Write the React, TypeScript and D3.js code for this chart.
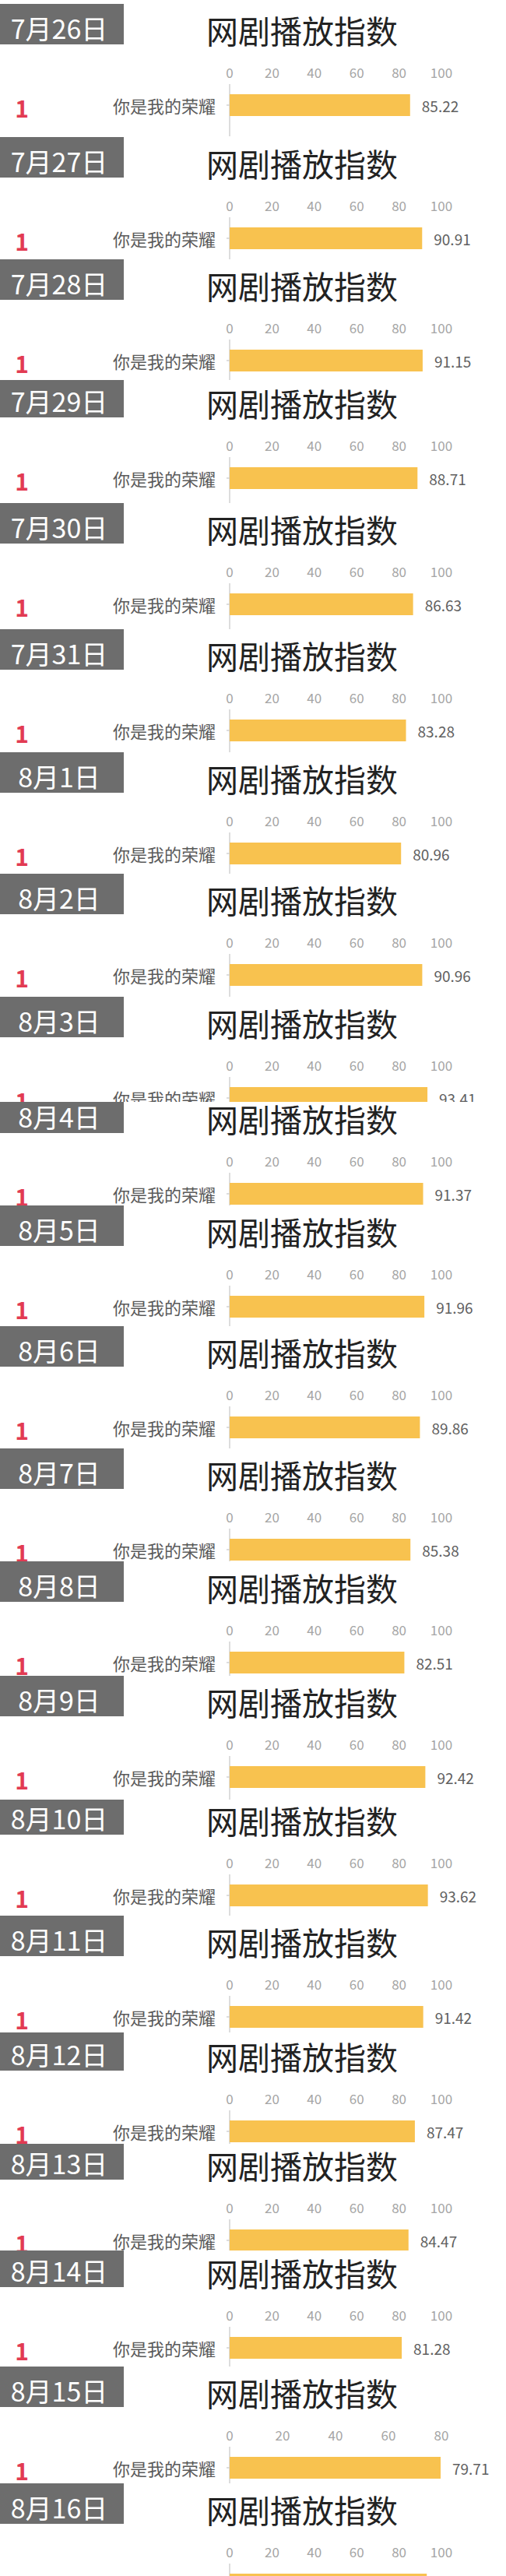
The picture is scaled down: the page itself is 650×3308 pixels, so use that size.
import React from 'react';
import * as d3 from 'd3';

// one ranking panel per day, all topped by the same show
const dates = [
  '7月26日', '7月27日', '7月28日', '7月29日', '7月30日', '7月31日',
  '8月1日', '8月2日', '8月3日', '8月4日', '8月5日', '8月6日', '8月7日',
  '8月8日', '8月9日', '8月10日', '8月11日', '8月12日', '8月13日',
  '8月14日', '8月15日', '8月16日',
];
const showName = '你是我的荣耀';
const rank = '1';
const values = [
  85.22, 90.91, 91.15, 88.71, 86.63, 83.28, 80.96, 90.96, 93.41, 91.37, 91.96,
  89.86, 85.38, 82.51, 92.42, 93.62, 91.42, 87.47, 84.47, 81.28, 79.71, 93.1,
];
const axisMax = [
  100, 100, 100, 100, 100, 100, 100, 100, 100, 100, 100,
  100, 100, 100, 100, 100, 100, 100, 100, 100, 80, 100,
];

// layout: the image is stitched from screenshots, so panels sit at uneven
// offsets and some are cut at the top by the one below
const panelTop = [
  5, 176, 333, 484, 646, 808, 966, 1122, 1280, 1403, 1548,
  1703, 1860, 2005, 2152, 2304, 2460, 2607, 2747, 2885, 3039, 3189,
];
const cutTop = [
  0, 176, 333, 488, 646, 808, 966, 1122, 1280, 1415, 1548,
  1703, 1860, 2005, 2152, 2311, 2460, 2610, 2753, 2890, 3039, 3189,
];

const W = 650;
const H = 3308;
const FONT = '"Noto Sans CJK SC", "Noto Sans", sans-serif';

const App: React.FC = () => {
  const fmt = d3.format('.2f');

  return (
    <svg
      width={W}
      height={H}
      style={{ position: 'absolute', left: 0, top: 0, background: '#fff' }}
      fontFamily={FONT}
    >
      <defs>
        {dates.map((d, i) => (
          <clipPath id={`panel-${i}`} key={d}>
            <rect x={0} y={cutTop[i]} width={W} height={H - cutTop[i]} />
          </clipPath>
        ))}
      </defs>
      {dates.map((d, i) => {
        const T = panelTop[i];
        const x = d3.scaleLinear().domain([0, axisMax[i]]).range([295, 567]);
        const ticks = x.ticks(5);
        const barMid = T + 130;
        return (
          <g key={d} clipPath={`url(#panel-${i})`}>
            <rect x={0} y={cutTop[i]} width={W} height={H - cutTop[i]} fill="#fff" />
            {/* date tag */}
            <rect x={0} y={T} width={159} height={52} fill="#6d6d6d" />
            <text x={76} y={T + 30} fill="#fff" fontSize={34} textAnchor="middle" dominantBaseline="central">
              {d}
            </text>
            {/* title */}
            <text x={388} y={T + 33} fill="#222" fontSize={41} textAnchor="middle" dominantBaseline="central">
              网剧播放指数
            </text>
            {/* top axis */}
            {ticks.map(t => (
              <text key={t} x={x(t)} y={T + 87} fill="#a5a5a5" fontSize={17} textAnchor="middle" dominantBaseline="central">
                {t}
              </text>
            ))}
            <line x1={x(0)} x2={x(0)} y1={T + 103} y2={T + 170} stroke="#d2d2d2" strokeWidth={1.5} />
            <line x1={x(0) - 4} x2={x(0)} y1={barMid} y2={barMid} stroke="#d2d2d2" strokeWidth={1.5} />
            {/* bar */}
            <rect x={x(0)} y={T + 116} width={x(values[i]) - x(0)} height={28} fill="#f8c24f" />
            <text x={x(values[i]) + 15} y={barMid} fill="#5f5f5f" fontSize={19} dominantBaseline="central">
              {fmt(values[i])}
            </text>
            <text x={277} y={barMid} fill="#5a5a5a" fontSize={22} textAnchor="end" dominantBaseline="central">
              {showName}
            </text>
            <text x={28} y={T + 146} fill="#e23b52" fontSize={30} fontWeight="bold" textAnchor="middle">
              {rank}
            </text>
          </g>
        );
      })}
    </svg>
  );
};

export default App;
